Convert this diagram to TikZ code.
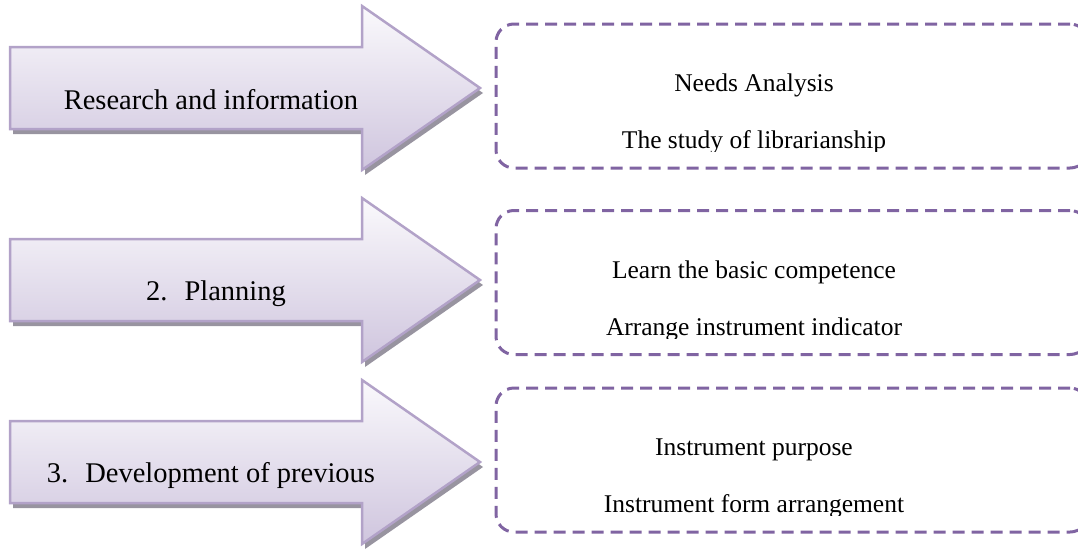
\documentclass[tikz,border=0pt]{standalone}
\usepackage{fontspec}
\setmainfont{Liberation Serif}
\usetikzlibrary{positioning}

\definecolor{arrowline}{RGB}{178,162,200}
\definecolor{arrowtop}{RGB}{250,249,252}
\definecolor{arrowbot}{RGB}{207,197,222}
\definecolor{arrowshadow}{RGB}{152,148,160}
\definecolor{boxline}{RGB}{128,100,162}

\tikzset{
  stagearrow/.style={draw=arrowline, line width=2.5pt, top color=arrowtop, bottom color=arrowbot},
  stageshadow/.style={fill=arrowshadow, shift={(3,5)}},
  itembox/.style={draw=boxline, line width=3pt, dash pattern=on 12pt off 7pt, rounded corners=18pt,
    minimum width=592pt, minimum height=144pt, inner sep=0pt},
  stagetext/.style={font=\fontsize{28.5}{34}\selectfont, anchor=base, inner sep=0pt},
  itemtext/.style={font=\fontsize{25.5}{30}\selectfont, anchor=base, inner sep=0pt},
}

\begin{document}
\begin{tikzpicture}[x=1pt,y=-1pt]
\useasboundingbox (0,0) rectangle (1078,549);
\clip (0,0) rectangle (1078,549);

% arrows on the left
\fill[stageshadow] (10,47) -- (362,47) -- (362,6) -- (480,88) -- (362,170) -- (362,129) -- (10,129) -- cycle;
\draw[stagearrow] (10,47) -- (362,47) -- (362,6) -- (480,88) -- (362,170) -- (362,129) -- (10,129) -- cycle;

\fill[stageshadow] (10,239) -- (362,239) -- (362,198) -- (480,280) -- (362,362) -- (362,321) -- (10,321) -- cycle;
\draw[stagearrow] (10,239) -- (362,239) -- (362,198) -- (480,280) -- (362,362) -- (362,321) -- (10,321) -- cycle;

\fill[stageshadow] (10,421) -- (362,421) -- (362,380) -- (480,462) -- (362,544) -- (362,503) -- (10,503) -- cycle;
\draw[stagearrow] (10,421) -- (362,421) -- (362,380) -- (480,462) -- (362,544) -- (362,503) -- (10,503) -- cycle;

\node[stagetext] (research) at (211,109) {Research and information};
\node[stagetext] (planning) at (216,300) {2.\hspace{17pt}Planning};
\node[stagetext] (development) at (211,482) {3.\hspace{17pt}Development of previous};

% boxes on the right
\node[itembox] (needsbox) at (792,96) {};
\node[itembox] (learnbox) at (792,282.5) {};
\node[itembox] (purposebox) at (792,460) {};

\node[itemtext] (needs) at (754,91) {Needs Analysis};
\node[itemtext] (learn) at (754,278) {Learn the basic competence};
\node[itemtext] (purpose) at (754,455) {Instrument purpose};

\begin{scope}
\clip (480,24) rectangle (1090,151);
\node[itemtext] (study) at (754,148) {The study of librarianship};
\end{scope}
\begin{scope}
\clip (480,211) rectangle (1090,338);
\node[itemtext] (arrange) at (754,335) {Arrange instrument indicator};
\end{scope}
\begin{scope}
\clip (480,388) rectangle (1090,515);
\node[itemtext] (form) at (754,512) {Instrument form arrangement};
\end{scope}
\end{tikzpicture}
\end{document}
